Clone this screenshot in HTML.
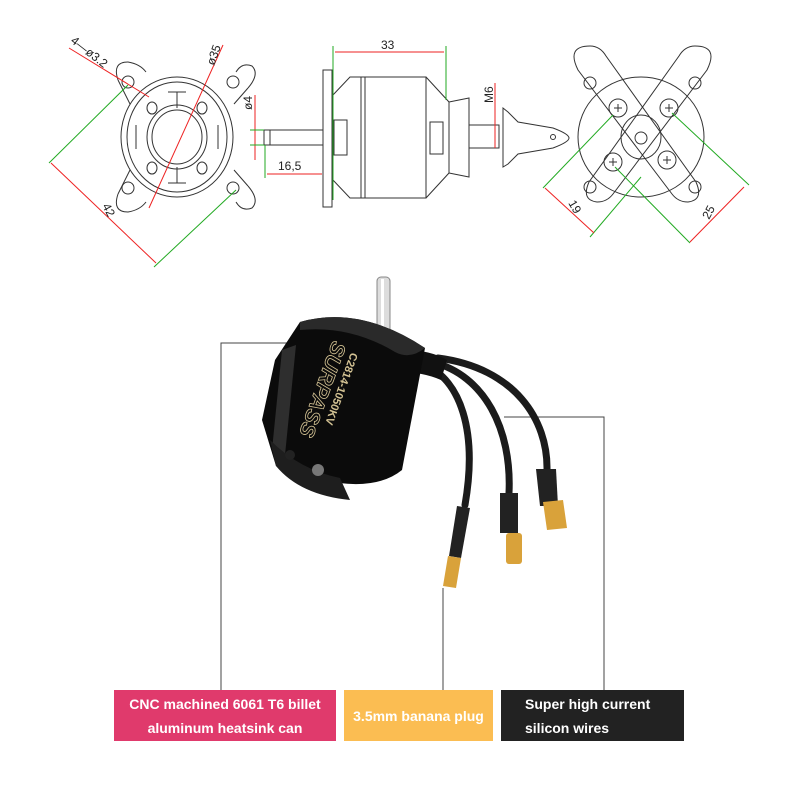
<!DOCTYPE html>
<html><head><meta charset="utf-8"><style>
html,body{margin:0;padding:0;background:#fff;}
.box{position:absolute;font-family:"Liberation Sans",sans-serif;font-weight:bold;color:#fff;font-size:14px;line-height:24px;display:flex;align-items:center;justify-content:center;text-align:center;}
</style></head><body>
<div style="position:relative;width:800px;height:800px;overflow:hidden">
<svg width="800" height="800" viewBox="0 0 800 800" style="position:absolute;left:0;top:0" font-family="Liberation Sans, sans-serif">
<!-- LEFT FRONT VIEW -->
<g fill="none" stroke="#333" stroke-width="1">
<path d="M118,80 q-6,-18 10,-18 q12,2 18,10 M236,72 q6,-10 16,-6 q8,8 -4,22 M118,194 q-6,18 10,18 q12,-2 18,-10 M236,202 q6,10 16,6 q8,-8 -4,-22"/>
<path d="M118,80 l12,24 M248,88 l-14,16 M118,194 l12,-24 M248,186 l-14,-16"/>
<circle cx="128" cy="82" r="6"/><circle cx="233" cy="82" r="6"/>
<circle cx="128" cy="188" r="6"/><circle cx="233" cy="188" r="6"/>
<ellipse cx="177" cy="137" rx="56" ry="60"/>
<ellipse cx="177" cy="137" rx="50" ry="55"/>
<ellipse cx="177" cy="137" rx="30" ry="32"/>
<ellipse cx="177" cy="137" rx="25" ry="27"/>
<ellipse cx="152" cy="108" rx="5" ry="6"/><ellipse cx="202" cy="108" rx="5" ry="6"/>
<ellipse cx="152" cy="168" rx="5" ry="6"/><ellipse cx="202" cy="168" rx="5" ry="6"/>
<path d="M168,92 h18 M177,92 v16 M168,183 h18 M177,183 v-16 M136,125 v24 M218,125 v24"/>
</g>
<!-- SIDE VIEW -->
<g fill="none" stroke="#333" stroke-width="1">
<rect x="323" y="70" width="9" height="137"/>
<path d="M332,96 l18,-19 h11 v121 h-11 l-18,-19"/>
<rect x="361" y="77" width="65" height="121"/>
<line x1="365" y1="77" x2="365" y2="198"/>
<path d="M426,77 l23,25 v71 l-23,25"/>
<path d="M449,102 l20,-4 v79 l-20,-4"/>
<rect x="334" y="120" width="13" height="35"/><rect x="430" y="122" width="13" height="32"/>
<rect x="264" y="130" width="59" height="15"/><line x1="270" y1="130" x2="270" y2="145"/>
<rect x="469" y="125" width="30" height="23"/>
<path d="M503,108 v59 l5,-3 l10,-10 l35,-6 q16,-6 16,-10 q0,-4 -16,-10 l-35,-6 l-10,-10z"/>
<circle cx="553" cy="137" r="2.5"/>
</g>
<!-- RIGHT REAR VIEW -->
<g fill="none" stroke="#333" stroke-width="1">
<ellipse cx="641" cy="137" rx="63" ry="60"/>
<path d="M578,70 q-12,-24 12,-24 q10,0 16,10 l90,126 q8,18 -8,20 q-10,0 -16,-8 z"/>
<path d="M707,70 q12,-24 -12,-24 q-10,0 -16,10 l-90,126 q-8,18 8,20 q10,0 16,-8 z"/>
<circle cx="590" cy="83" r="6"/><circle cx="695" cy="83" r="6"/>
<circle cx="590" cy="187" r="6"/><circle cx="695" cy="187" r="6"/>
<ellipse cx="641" cy="137" rx="20" ry="22"/><circle cx="641" cy="138" r="6"/>
<circle cx="618" cy="108" r="9"/><circle cx="669" cy="108" r="9"/>
<circle cx="613" cy="162" r="9"/><circle cx="667" cy="160" r="9"/>
<path d="M614,108 h8 M618,104 v8 M665,108 h8 M669,104 v8 M609,162 h8 M613,158 v8 M663,160 h8 M667,156 v8"/>
</g>
<!-- dimension lines -->
<g stroke-width="1" fill="none">
<line x1="69" y1="48" x2="149" y2="97" stroke="#e22"/>
<line x1="223" y1="45" x2="149" y2="208" stroke="#e22"/>
<line x1="49" y1="163" x2="128" y2="85" stroke="#2a2"/>
<line x1="154" y1="267" x2="236" y2="190" stroke="#2a2"/>
<line x1="51" y1="163" x2="156" y2="263" stroke="#e22"/>
<line x1="255" y1="95" x2="255" y2="160" stroke="#e22"/>
<line x1="250" y1="130" x2="264" y2="130" stroke="#2a2"/>
<line x1="250" y1="145" x2="264" y2="145" stroke="#2a2"/>
<line x1="265" y1="145" x2="265" y2="178" stroke="#2a2"/>
<line x1="267" y1="174" x2="322" y2="174" stroke="#e22"/>
<line x1="333" y1="46" x2="333" y2="200" stroke="#2a2"/>
<line x1="446" y1="46" x2="446" y2="100" stroke="#2a2"/>
<line x1="335" y1="52" x2="444" y2="52" stroke="#e22"/>
<line x1="495" y1="83" x2="495" y2="148" stroke="#e22"/>
<line x1="613" y1="115" x2="543" y2="188" stroke="#2a2"/>
<line x1="641" y1="177" x2="590" y2="237" stroke="#2a2"/>
<line x1="545" y1="188" x2="594" y2="233" stroke="#e22"/>
<line x1="672" y1="113" x2="749" y2="185" stroke="#2a2"/>
<line x1="615" y1="167" x2="690" y2="243" stroke="#2a2"/>
<line x1="744" y1="187" x2="690" y2="242" stroke="#e22"/>
</g>
<g font-size="12" fill="#222">
<text transform="translate(70,42) rotate(38)">4—ø3.2</text>
<text transform="translate(214,66) rotate(-70)">ø35</text>
<text transform="translate(252,110) rotate(-90)">ø4</text>
<text transform="translate(102,206) rotate(62)">42</text>
<text x="278" y="170">16,5</text>
<text x="381" y="49">33</text>
<text transform="translate(493,103) rotate(-90)">M6</text>
<text transform="translate(568,203) rotate(60)">19</text>
<text transform="translate(709,220) rotate(-62)">25</text>
</g>

<!-- connectors -->
<g stroke="#444" stroke-width="1" fill="none">
<path d="M221,690 V343 H330"/>
<path d="M443,690 V588"/>
<path d="M604,690 V417 H504"/>
</g>
<!-- shaft -->
<rect x="377" y="277" width="13" height="60" rx="4" fill="#ddd" stroke="#888"/>
<rect x="381" y="279" width="3" height="55" fill="#fff"/>
<!-- wires -->
<g fill="none" stroke="#1b1b1b" stroke-width="7" stroke-linecap="round">
<path d="M425,365 C460,380 478,430 465,505"/>
<path d="M432,362 C485,375 512,430 509,493"/>
<path d="M438,358 C515,368 548,420 547,470"/>
</g>
<path d="M405,350 q25,0 42,10 l-6,20 q-18,-8 -42,-8z" fill="#111"/>
<!-- motor body -->
<path d="M300,322 Q360,305 425,348 L402,470 Q365,500 276,466 L262,420 L275,360 Z" fill="#0b0b0b"/>
<path d="M300,322 Q360,305 425,348 Q410,360 395,352 Q350,325 300,330Z" fill="#2a2a2a"/>
<path d="M282,350 L296,345 L285,455 L272,450Z" fill="#2e2e2e"/>
<path d="M270,440 Q300,470 340,478 L350,500 Q300,495 276,466Z" fill="#1e1e1e"/>
<circle cx="318" cy="470" r="6" fill="#777"/>
<circle cx="290" cy="455" r="5" fill="#222"/>
<text transform="translate(351,352) rotate(110)" font-size="11" fill="#d4c394" font-weight="bold">C2814-1050KV</text>
<text transform="translate(333,340) rotate(110)" font-size="21" fill="none" stroke="#d4c394" stroke-width=".8" font-style="italic" font-weight="bold">SURPASS</text>
<!-- plugs -->
<polygon points="457,506 470,508 461,558 449,556" fill="#222"/>
<polygon points="448,556 461,558 456,588 443,586" fill="#d9a23a"/>
<rect x="500" y="493" width="18" height="40" fill="#222"/>
<rect x="506" y="533" width="16" height="31" rx="3" fill="#d9a23a"/>
<polygon points="536,469 556,469 558,506 540,506" fill="#222"/>
<polygon points="543,502 563,500 567,528 547,530" fill="#d9a23a"/>
</svg>
<div class="box" style="left:114px;top:690px;width:222px;height:51px;background:#e03a6c;">CNC machined 6061 T6 billet<br>aluminum heatsink can</div>
<div class="box" style="left:344px;top:690px;width:149px;height:51px;background:#fbbd52;">3.5mm banana plug</div>
<div class="box" style="left:501px;top:690px;width:183px;height:51px;background:#222;text-align:left;justify-content:flex-start;padding-left:24px;box-sizing:border-box;">Super high current<br>silicon wires</div>
</div>
</body></html>
